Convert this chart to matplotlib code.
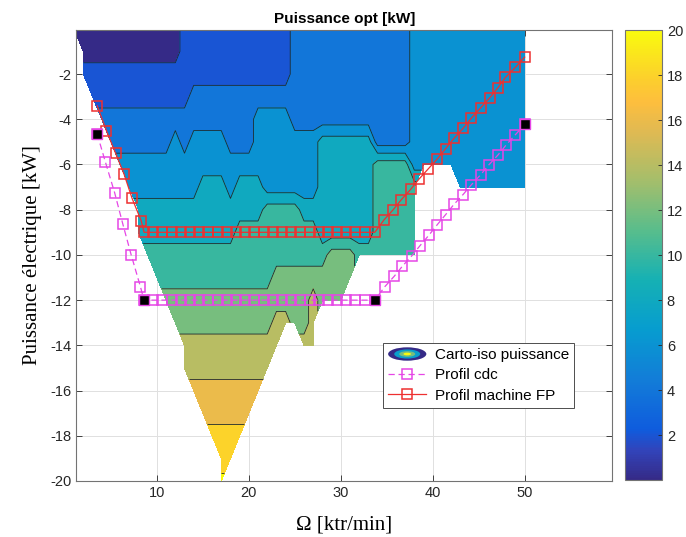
import numpy as np
import matplotlib
matplotlib.use("Agg")
import matplotlib.pyplot as plt
from matplotlib.colors import LinearSegmentedColormap, Normalize
from matplotlib.cm import ScalarMappable
from matplotlib.legend_handler import HandlerBase
from matplotlib.patches import Ellipse, Patch

# --- iso-power map: grid of speed [ktr/min] x electrical power [kW] ---
speed_grid = np.arange(1, 51)
elec_grid = np.arange(0, -21, -1)

# optimal power band read per cell (0: 0-2 kW, 1: 2-4 kW, ... a: >20 kW), '.' = no data
# one string per electrical power row (0, -1, ... -20), one char per speed 1..50
band_rows = [
    "0000000000" "0011111111" "1111222222" "2222222333" "3333333333",
    ".000000000" "0011111111" "1111222222" "2222222333" "3333333333",
    ".111111111" "1111111111" "1111222222" "2222222333" "3333333333",
    "..11111111" "1112222222" "2222222222" "2222222333" "3333333333",
    "...2222222" "2222222222" "3333222222" "2222222333" "3333333333",
    "....222222" "2323333222" "3333333444" "4442222333" "3333333333",
    ".....33333" "3333333333" "3333333444" "4445555333" "3333333333",
    "......3333" "3333444344" "4333333444" "44455555.." "..33333333",
    ".......444" "4444444444" "4555544444" "44455555.." "..........",
    ".......444" "4444444455" "5555555444" "44455555.." "..........",
    "........55" "5555555555" "5555555566" "65555555.." "..........",
    ".........5" "5555555555" "5566666666" "6........." "..........",
    ".........." "6666666666" "6666667666" ".........." "..........",
    ".........." ".666666666" "6677667..." ".........." "..........",
    ".........." "..77777777" "777..77..." ".........." "..........",
    ".........." "..77777777" "77........" ".........." "..........",
    ".........." "...8888888" "8........." ".........." "..........",
    ".........." "....888888" ".........." ".........." "..........",
    ".........." ".....9999." ".........." ".........." "..........",
    ".........." "......99.." ".........." ".........." "..........",
    ".........." "......a..." ".........." ".........." "..........",
]
band_values = {"0": 1, "1": 3, "2": 5, "3": 7, "4": 9, "5": 11, "6": 13,
               "7": 15, "8": 17, "9": 19, "a": 20.5}
levels = [0, 2, 4, 6, 8, 10, 12, 14, 16, 18, 20, 21]

# --- profiles ---
cdc_x = [3.5, 4.4, 5.4, 6.3, 7.2, 8.2, 8.6, 9.6, 10.6, 11.6, 12.6, 13.6, 14.6,
         15.6, 16.6, 17.6, 18.6, 19.6, 20.6, 21.6, 22.6, 23.6, 24.6, 25.6, 26.6,
         27.6, 28.6, 29.6, 30.6, 31.6, 32.6, 33.7, 34.8, 35.8, 36.7, 37.7, 38.6,
         39.6, 40.5, 41.4, 42.3, 43.3, 44.2, 45.2, 46.1, 47.1, 48.0, 49.0, 50.0]
cdc_y = ([-4.65, -5.9, -7.25, -8.65, -10.0, -11.4] + [-12.0] * 26 +
         [-11.4, -10.95, -10.5, -10.05, -9.6, -9.12, -8.66, -8.22, -7.77, -7.33,
          -6.9, -6.46, -6.02, -5.58, -5.13, -4.68, -4.23])

fp_x = [3.5, 4.5, 5.5, 6.4, 7.3, 8.3, 8.6, 9.6, 10.6, 11.6, 12.6, 13.6, 14.6,
        15.6, 16.6, 17.6, 18.6, 19.6, 20.6, 21.6, 22.6, 23.6, 24.6, 25.6, 26.6,
        27.6, 28.6, 29.6, 30.6, 31.6, 32.6, 33.7, 34.7, 35.7, 36.6, 37.6, 38.5,
        39.5, 40.5, 41.4, 42.3, 43.3, 44.2, 45.2, 46.2, 47.1, 47.9, 49.0, 50.0]
fp_y = ([-3.4, -4.5, -5.5, -6.4, -7.5, -8.5] + [-9.0] * 26 +
        [-8.45, -8.0, -7.55, -7.1, -6.65, -6.2, -5.75, -5.3, -4.85, -4.4, -3.95,
         -3.5, -3.05, -2.6, -2.15, -1.7, -1.25])

# corner points of the cdc profile
corner_x = [3.5, 8.6, 33.7, 50.0]
corner_y = [-4.65, -12.0, -12.0, -4.23]

# parula-like colormap
parula_pts = [
    (0.0, (0.2081, 0.1663, 0.5292)),
    (4 / 63, (0.1959, 0.2645, 0.7279)),
    (7 / 63, (0.0591, 0.3598, 0.8683)),
    (14 / 63, (0.0723, 0.4887, 0.8467)),
    (21 / 63, (0.0265, 0.6137, 0.8135)),
    (28 / 63, (0.0843, 0.6928, 0.7062)),
    (35 / 63, (0.3482, 0.7424, 0.5473)),
    (42 / 63, (0.6473, 0.7456, 0.4188)),
    (49 / 63, (0.8824, 0.7274, 0.3217)),
    (53 / 63, (0.9938, 0.7455, 0.2403)),
    (56 / 63, (0.9880, 0.8066, 0.1794)),
    (1.0, (0.9763, 0.9831, 0.0538)),
]
parula = LinearSegmentedColormap.from_list("parula", parula_pts)

Z = np.array([[band_values[c] if c != "." else np.nan for c in row] for row in band_rows])
Z = np.ma.masked_invalid(Z)
X, Y = np.meshgrid(speed_grid, elec_grid)


class HandlerIso(HandlerBase):
    def create_artists(self, legend, orig_handle, xdescent, ydescent,
                       width, height, fontsize, trans):
        cx = 0.5 * width - xdescent
        cy = 0.5 * height - ydescent
        arts = []
        for frac, val in zip([1.0, 0.68, 0.42, 0.2], [0.0, 0.35, 0.6, 1.0]):
            arts.append(Ellipse((cx, cy), width * frac, height * 1.25 * frac,
                                facecolor=parula(val), edgecolor="none",
                                transform=trans))
        return arts


plt.rcParams["font.family"] = "Liberation Sans"
plt.rcParams["axes.unicode_minus"] = False

fig = plt.figure(figsize=(6.86, 5.37), dpi=100)
ax = fig.add_axes([0.1115, 0.1043, 0.7806, 0.8399])
cax = fig.add_axes([0.911, 0.106, 0.054, 0.838])

fill_colors = [parula(l / 20) for l in levels[:-1]]
ax.contourf(X, Y, Z, levels=levels, colors=fill_colors, zorder=1)
ax.contour(X, Y, Z, levels=levels[1:-1], colors="#1e2a30", linewidths=0.6, zorder=2)

magenta = "#e646e6"
red = "#ee3030"
l_fp, = ax.plot(fp_x, fp_y, "-s", color=red, mfc="none", mec=red, ms=6.5,
                mew=1.1, lw=0.9, zorder=3)
l_cdc, = ax.plot(cdc_x, cdc_y, "s", ls=(0, (5, 3)), color=magenta, mfc="none",
                 mec=magenta, ms=6.5, mew=1.1, lw=0.9, zorder=4)
ax.plot(corner_x, corner_y, "s", mfc="k", mec=magenta, ms=6.5, mew=1.0, ls="none", zorder=5)

ax.set_xlim(1.25, 59.5)
ax.set_ylim(-20, -0.05)
ax.set_xticks([10, 20, 30, 40, 50])
ax.set_yticks(list(range(-20, -1, 2)))
ax.grid(True, color="0.88", lw=0.7)
ax.set_axisbelow(True)
ax.tick_params(direction="in", length=4, width=0.6, colors="0.15", top=True,
               right=True, labelsize=10.5)
for sp in ax.spines.values():
    sp.set_color("0.45")
    sp.set_linewidth(0.8)

ax.set_title("Puissance opt [kW]", fontweight="bold", fontsize=11, pad=5)
ax.set_xlabel("Ω [ktr/min]", family="Liberation Serif", fontsize=15, labelpad=11)
ax.set_ylabel("Puissance électrique [kW]", family="Liberation Serif", fontsize=15, labelpad=6)

iso_proxy = Patch()
leg = ax.legend([iso_proxy, l_cdc, l_fp],
                ["Carto-iso puissance", "Profil cdc", "Profil machine FP"],
                handler_map={iso_proxy: HandlerIso()}, loc="lower left",
                bbox_to_anchor=(0.572, 0.162), fontsize=11, fancybox=False,
                edgecolor="0.3", framealpha=1, borderpad=0.35, handlelength=2.5,
                handletextpad=0.55, labelspacing=0.4, borderaxespad=0)
leg.get_frame().set_linewidth(0.7)

cb = fig.colorbar(ScalarMappable(norm=Normalize(0, 20), cmap=parula), cax=cax,
                  ticks=list(range(2, 21, 2)))
cb.ax.tick_params(direction="in", length=3, width=0.6, colors="0.15", labelsize=10.5)
cb.outline.set_edgecolor("0.45")
cb.outline.set_linewidth(0.8)

fig.savefig("out.png", dpi=100)
